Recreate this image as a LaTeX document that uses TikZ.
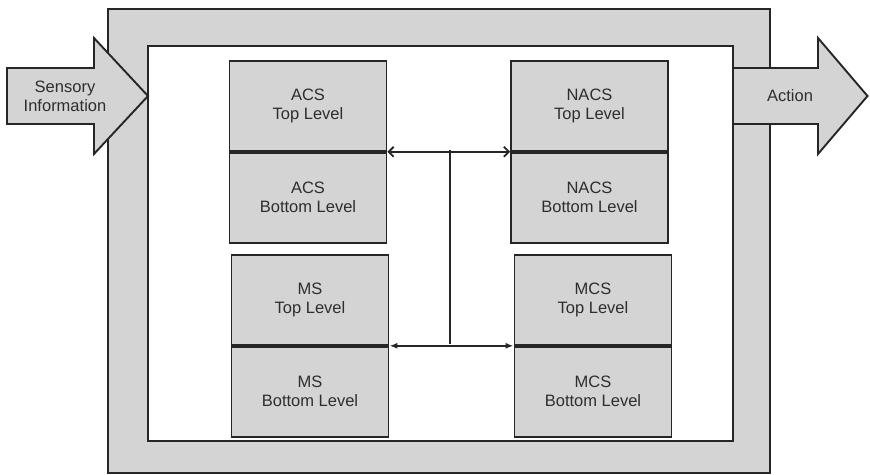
\documentclass[tikz,border=0pt]{standalone}
\usepackage{fontspec}
\setmainfont{Liberation Sans}
\usetikzlibrary{arrows.meta,calc}
\definecolor{boxgray}{HTML}{D4D4D4}
\definecolor{linegray}{HTML}{262626}
\definecolor{txtgray}{HTML}{2E2E2E}
\begin{document}
\begin{tikzpicture}[x=1pt,y=-1pt,
  txt/.style={align=center,font=\fontsize{16.5}{19}\selectfont,text=txtgray,inner sep=0pt},
  half/.style={txt,draw=linegray,line width=1.8pt,fill=boxgray,minimum width=157pt,minimum height=90pt},
  frame/.style={draw=linegray,line width=1.9pt},
  link/.style={draw=linegray,line width=1.8pt},
  barb/.tip={Straight Barb[length=5pt,width=10pt,line width=1.8pt]},
  tri/.tip={Latex[length=8pt,width=6pt]}]
\useasboundingbox (0,0) rectangle (870,474);
% frames
\node[frame,fill=boxgray,minimum width=662pt,minimum height=464pt,inner sep=0pt] (outer) at (439,241) {};
\node[frame,fill=white,minimum width=585pt,minimum height=395pt,inner sep=0pt] (inner) at (440.5,243.5) {};
% input / output arrows
\draw[frame,fill=boxgray,line join=miter] (7,68) -- (94,68) -- (94,38) -- (148,96) -- (94,154) -- (94,124) -- (7,124) -- cycle;
\node[txt] (sensory) at (65,96) {Sensory\\Information};
\draw[frame,fill=boxgray,line join=miter] (733,68) -- (818,68) -- (818,38) -- (867.5,96) -- (818,154) -- (818,124) -- (733,124) -- cycle;
\node[txt] (action) at (790,96) {Action};
% subsystem boxes
\node[half,anchor=north] (acsT) at (308,60) {ACS\\Top Level};
\node[half,anchor=north] (acsB) at (acsT.south) {ACS\\Bottom Level};
\node[half,anchor=north] (nacsT) at (589.5,60) {NACS\\Top Level};
\node[half,anchor=north] (nacsB) at (nacsT.south) {NACS\\Bottom Level};
\node[half,anchor=north] (msT) at (310,254) {MS\\Top Level};
\node[half,anchor=north] (msB) at (msT.south) {MS\\Bottom Level};
\node[half,anchor=north] (mcsT) at (593,254) {MCS\\Top Level};
\node[half,anchor=north] (mcsB) at (mcsT.south) {MCS\\Bottom Level};
% connectors
\coordinate (jt) at (450,150);
\coordinate (jb) at (450,344);
\draw[link,barb-barb] (acsT.south east) -- (nacsT.south west);
\draw[link,tri-tri] (msT.south east) -- (mcsT.south west);
\draw[link] (jt) -- (jb);
\end{tikzpicture}
\end{document}
